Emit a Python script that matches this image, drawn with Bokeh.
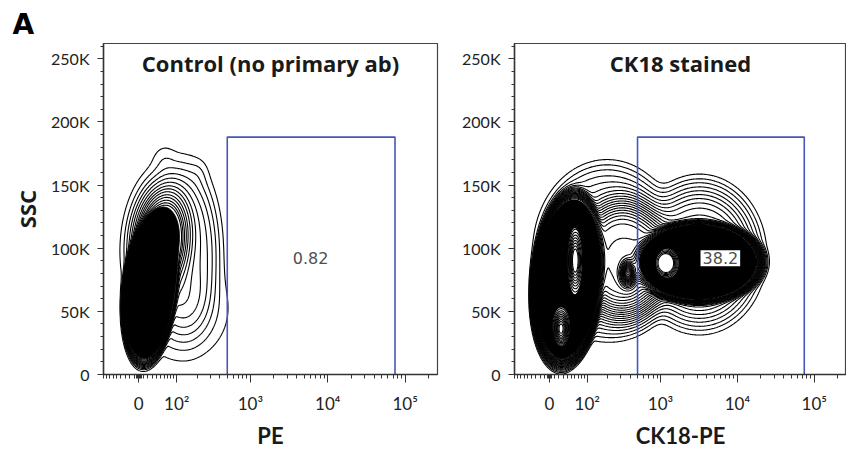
import numpy as np
from bokeh.plotting import figure
from bokeh.layouts import row
from bokeh.models import Range1d, FixedTicker, SingleIntervalTicker, Label, CustomJSTickFormatter
from bokeh.embed import file_html
from bokeh.resources import INLINE

# ---------------- axis definitions (biexponential-like PE axis) ----------------
ASINH_COFACTOR = 72.0
X_RANGE_RAW = [-90.0, 262144.0]
Y_RANGE = [0.0, 262144.0]
X_TICK_VALUES = [0, 100, 1000, 10000, 100000]
X_TICK_LABELS = ["0", "10²", "10³", "10⁴", "10⁵"]
X_MINOR_VALUES = [-90, -80, -70, -60, -50, -40, -30, -20, -10, -5, -3, -1,
                  1, 3, 5, 10, 20, 30, 40, 50, 60, 70, 80, 90,
                  200, 300, 400, 500, 600, 700, 800, 900,
                  2000, 3000, 4000, 5000, 6000, 7000, 8000, 9000,
                  20000, 30000, 40000, 50000, 60000, 70000, 80000, 90000,
                  200000]
Y_TICK_VALUES = [0, 50000, 100000, 150000, 200000, 250000]
Y_TICK_LABELS = ["0", "50K", "100K", "150K", "200K", "250K"]

PANEL_LETTER = "A"
PANEL_TITLES = ["Control (no primary ab)", "CK18 stained"]
X_AXIS_LABELS = ["PE", "CK18-PE"]
Y_AXIS_LABEL = "SSC"
GATE_PE = [500, 74000]          # PE gate bounds (raw)
GATE_SSC = [0, 188000]          # SSC gate bounds
GATE_PERCENT = ["0.82", "38.2"]
GATE_LABEL_PE = 6000
GATE_LABEL_SSC = 92000

# ---------------- populations ----------------
# centre x (display decades), centre y (SSC), spreads, shear (decades per 100K SSC),
# peak weight, radial shape exponent, and whether the population core is drawn solid
CTRL_CX = [0.15, 0.30, 0.60, 0.55, 0.33, 0.78]
CTRL_CY = [68000, 106000, 98000, 52000, 170000, 160000]
CTRL_SX = [0.30, 0.17, 0.33, 0.30, 0.10, 0.08]
CTRL_SY = [52000, 20000, 50000, 20000, 8000, 7000]
CTRL_SHEAR = [0.14, 0.1, 0.0, 0.0, 0.0, 0.0]
CTRL_W = [0.6, 0.6, 0.05, 0.03, 0.006, 0.004]
CTRL_P = [10, 2, 4, 2, 2, 2]
CTRL_CORE = [1, 1, 0, 0, 0, 0]
CTRL_FILL_BAND = [0.25, 100.0]
CTRL_LEVELS = [0.004, 0.01, 0.018, 0.028, 0.04, 0.055, 0.072, 0.09, 0.11,
               0.135, 0.16, 0.19, 0.22, 0.25]

CK_CX = [0.24, 0.15, 0.33, 1.93, 1.53, 1.02, 0.95, 0.75, 1.95]
CK_CY = [76000, 36000, 90000, 89000, 88000, 80000, 92000, 98000, 95000]
CK_SX = [0.40, 0.07, 0.06, 0.73, 0.09, 0.06, 0.45, 0.75, 0.55]
CK_SY = [60000, 10000, 16000, 28000, 7000, 6000, 35000, 56000, 40000]
CK_SHEAR = [0.12, 0.0, 0.0, 0.0, 0.0, 0.0, 0.0, 0.0, 0.0]
CK_W = [0.5, 0.45, 0.4, 0.5, 0.45, 0.5, 0.25, 0.04, 0.1]
CK_P = [10, 2, 2, 10, 2, 2, 4, 6, 4]
CK_CORE = [1, 1, 1, 1, 1, 0, 0, 0, 0]
CK_FILL_BAND = [0.25, 0.6]
CK_LEVELS = [0.004, 0.008, 0.013, 0.02, 0.028, 0.037, 0.047, 0.058, 0.07, 0.083,
             0.097, 0.112, 0.128, 0.145, 0.163, 0.182, 0.202, 0.224, 0.248,
             0.285, 0.32, 0.355, 0.39, 0.425, 0.46, 0.495, 0.53, 0.565, 0.6,
             0.635, 0.67, 0.705, 0.74, 0.775, 0.81, 0.845, 0.88, 0.915]

FONT = "Lato"
BOLD_FONT = "Open Sans"
GATE_COLOR = "#4557b8"


def tr(v):
    return np.arcsinh(np.asarray(v, dtype=float) / ASINH_COFACTOR) / np.log(10)


def density(comps, X, Y, only_core=False):
    Z = np.zeros_like(X)
    for a, b, s1, s2, sh, k, pw, core in zip(*comps):
        if only_core and not core:
            continue
        dy = (Y - b) / s2
        dx = (X - a - sh * (Y - b) / 100000.0) / s1
        q = (dx * dx + dy * dy) ** (pw / 2.0)
        Z += k * np.exp(-0.5 * q)
    return Z


def fmt(vals, labs):
    return CustomJSTickFormatter(args=dict(vals=list(map(float, vals)), labs=labs), code="""
        let best = 0, bd = Infinity;
        for (let i = 0; i < vals.length; i++) {
            const d = Math.abs(vals[i] - tick);
            if (d < bd) { bd = d; best = i; }
        }
        return bd < 1e-6 ? labs[best] : "";
    """)


def make_panel(idx, width, border_left, border_right, comps, fill_band, levels, show_ylabel):
    xr = tr(X_RANGE_RAW)
    p = figure(width=width, height=451, output_backend="svg", toolbar_location=None,
               x_range=Range1d(float(xr[0]), float(xr[1])),
               y_range=Range1d(Y_RANGE[0], Y_RANGE[1]),
               min_border_left=border_left, min_border_right=border_right,
               min_border_top=43, min_border_bottom=77)
    p.background_fill_color = "white"
    p.border_fill_color = "white"
    p.xgrid.visible = False
    p.ygrid.visible = False
    p.outline_line_color = "#444444"
    p.outline_line_width = 1.2

    # contours: solid population cores + contour lines of the full density
    tx = np.linspace(xr[0], xr[1], 400)
    sy = np.linspace(Y_RANGE[0], Y_RANGE[1], 400)
    X, Y = np.meshgrid(tx, sy)
    Z = density(comps, X, Y)
    Zc = density(comps, X, Y, only_core=True)
    p.contour(X, Y, Zc, [fill_band[0], fill_band[1]],
              fill_color="black", line_color="black", line_width=1.0)
    p.contour(X, Y, Z, levels, line_color="black", line_width=1.1)

    # gate
    gx = tr(GATE_PE)
    p.line([gx[0], gx[0], gx[1], gx[1]], [GATE_SSC[0], GATE_SSC[1], GATE_SSC[1], GATE_SSC[0]],
           line_color=GATE_COLOR, line_width=1.6)

    # gate percentage
    lab = Label(x=float(tr(GATE_LABEL_PE)), y=GATE_LABEL_SSC, text=GATE_PERCENT[idx],
                text_font="DejaVu Sans", text_font_size="16px", text_color="#505050",
                text_align="center", text_baseline="middle")
    if idx == 1:
        lab.background_fill_color = "white"
        lab.padding = 2
    p.add_layout(lab)

    # panel title
    p.add_layout(Label(x=float((xr[0] + xr[1]) / 2), y=246500, text=PANEL_TITLES[idx],
                       text_font=BOLD_FONT, text_font_style="bold", text_font_size="22px",
                       text_color="#1a1a1a", text_align="center", text_baseline="middle"))

    # x axis
    xa = p.xaxis[0]
    xa.ticker = FixedTicker(ticks=list(map(float, tr(X_TICK_VALUES))),
                            minor_ticks=list(map(float, tr(X_MINOR_VALUES))))
    xa.formatter = fmt(tr(X_TICK_VALUES), X_TICK_LABELS)
    xa.axis_label = X_AXIS_LABELS[idx]
    xa.axis_label_text_font = FONT
    xa.axis_label_text_font_style = "bold"
    xa.axis_label_text_font_size = "22px"
    xa.axis_label_text_color = "#1a1a1a"
    xa.axis_label_standoff = 5
    xa.major_label_text_font = FONT
    xa.major_label_text_font_size = "17px"
    xa.major_label_text_color = "#222222"
    xa.major_label_standoff = 10
    xa.major_tick_in = 0
    xa.major_tick_out = 8
    xa.minor_tick_in = 0
    xa.minor_tick_out = 4
    xa.axis_line_color = "#333333"
    xa.axis_line_width = 1.5
    xa.major_tick_line_color = "#333333"
    xa.minor_tick_line_color = "#333333"

    ya = p.yaxis[0]
    ya.ticker = SingleIntervalTicker(interval=50000, num_minor_ticks=5)
    ya.formatter = fmt(Y_TICK_VALUES, Y_TICK_LABELS)
    if show_ylabel:
        ya.axis_label = Y_AXIS_LABEL
        ya.axis_label_text_font = BOLD_FONT
        ya.axis_label_text_font_style = "bold"
        ya.axis_label_text_font_size = "22px"
        ya.axis_label_text_color = "#1a1a1a"
        ya.axis_label_standoff = 6
    ya.major_label_text_font = FONT
    ya.major_label_text_font_size = "16px"
    ya.major_label_text_color = "#222222"
    ya.major_label_standoff = 8
    ya.major_tick_in = 0
    ya.major_tick_out = 6
    ya.minor_tick_in = 0
    ya.minor_tick_out = 3
    ya.axis_line_color = "#333333"
    ya.axis_line_width = 1.5
    ya.major_tick_line_color = "#333333"
    ya.minor_tick_line_color = "#333333"
    return p


ctrl = (CTRL_CX, CTRL_CY, CTRL_SX, CTRL_SY, CTRL_SHEAR, CTRL_W, CTRL_P, CTRL_CORE)
ck = (CK_CX, CK_CY, CK_SX, CK_SY, CK_SHEAR, CK_W, CK_P, CK_CORE)
p1 = make_panel(0, 450, 103, 13, ctrl, CTRL_FILL_BAND, CTRL_LEVELS, True)
p2 = make_panel(1, 396, 64, 0, ck, CK_FILL_BAND, CK_LEVELS, False)

# panel letter as the left panel's title, pushed into the top-left corner
p1.title.text = PANEL_LETTER
p1.title.text_font = "DejaVu Sans"
p1.title.text_font_style = "bold"
p1.title.text_font_size = "28px"
p1.title.text_color = "black"
p1.title.align = "left"
p1.title.offset = -91
p1.title.standoff = 5
p1.title.vertical_align = "bottom"

layout = row(p1, p2)
open("out.html", "w").write(file_html(layout, INLINE))
